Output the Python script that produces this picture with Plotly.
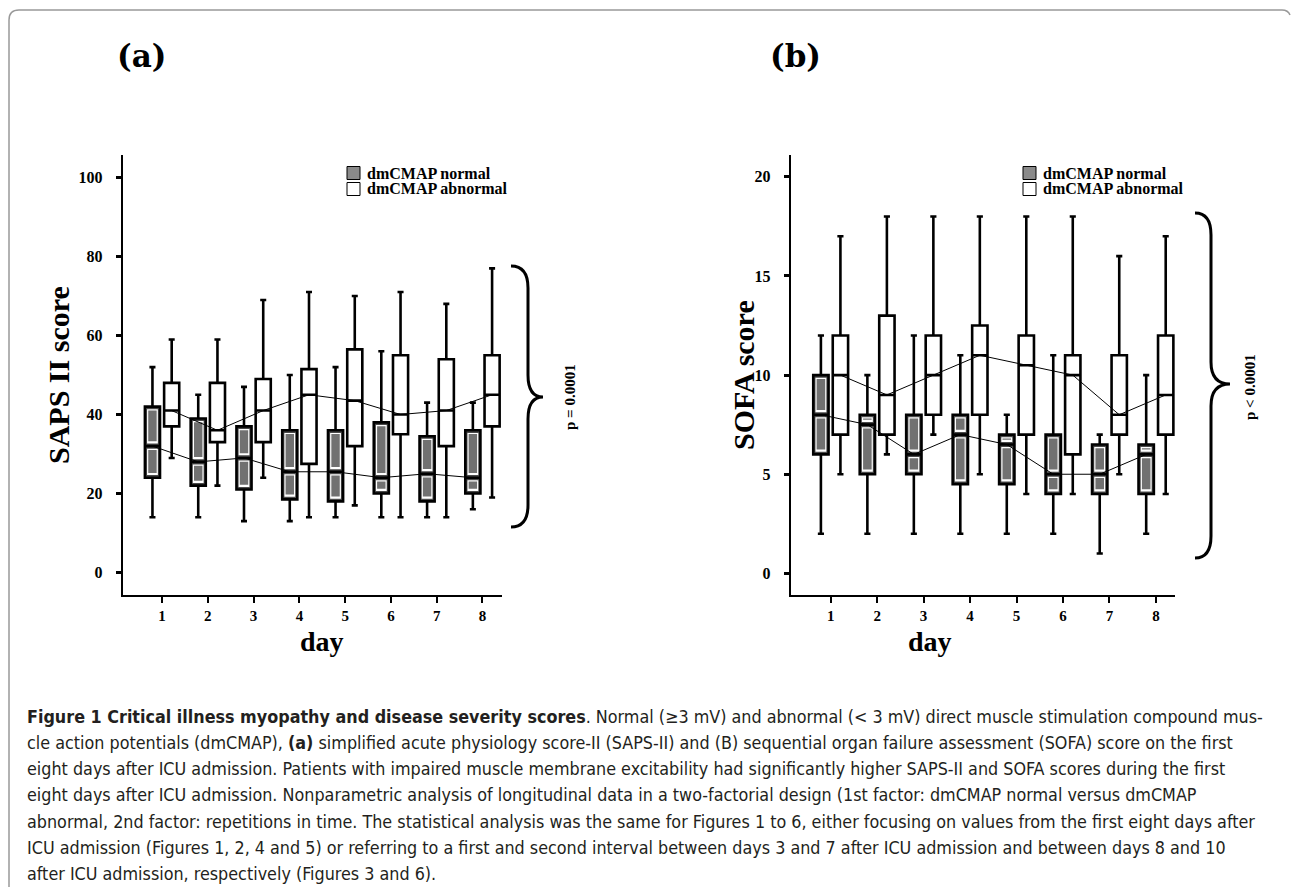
import plotly.graph_objects as go

W, H = 1292, 887

days = [1, 2, 3, 4, 5, 6, 7, 8]
day_labels = ["1", "2", "3", "4", "5", "6", "7", "8"]

# Panel (a) SAPS II: dmCMAP normal
saps_norm_low = [14, 14, 13, 13, 14, 14, 14, 16]
saps_norm_q1 = [24, 22, 21, 18.5, 18, 20, 18, 20]
saps_norm_med = [32, 28, 29, 25.5, 25.5, 24, 25, 24]
saps_norm_q3 = [42, 39, 37, 36, 36, 38, 34.5, 36]
saps_norm_high = [52, 45, 47, 50, 52, 56, 43, 43]
# Panel (a) SAPS II: dmCMAP abnormal
saps_abn_low = [29, 22, 24, 14, 17, 14, 14, 19]
saps_abn_q1 = [37, 33, 33, 27.5, 32, 35, 32, 37]
saps_abn_med = [41, 36, 41, 45, 43.5, 40, 41, 45]
saps_abn_q3 = [48, 48, 49, 51.5, 56.5, 55, 54, 55]
saps_abn_high = [59, 59, 69, 71, 70, 71, 68, 77]

# Panel (b) SOFA: dmCMAP normal
sofa_norm_low = [2, 2, 2, 2, 2, 2, 1, 2]
sofa_norm_q1 = [6, 5, 5, 4.5, 4.5, 4, 4, 4]
sofa_norm_med = [8, 7.5, 6, 7, 6.5, 5, 5, 6]
sofa_norm_q3 = [10, 8, 8, 8, 7, 7, 6.5, 6.5]
sofa_norm_high = [12, 10, 12, 11, 8, 11, 7, 10]
# Panel (b) SOFA: dmCMAP abnormal
sofa_abn_low = [5, 6, 7, 5, 4, 4, 5, 4]
sofa_abn_q1 = [7, 7, 8, 8, 7, 6, 7, 7]
sofa_abn_med = [10, 9, 10, 11, 10.5, 10, 8, 9]
sofa_abn_q3 = [12, 13, 12, 12.5, 12, 11, 11, 12]
sofa_abn_high = [17, 18, 18, 18, 18, 18, 16, 17]

saps_ticks = [0, 20, 40, 60, 80, 100]
sofa_ticks = [0, 5, 10, 15, 20]

legend_labels = ["dmCMAP normal", "dmCMAP abnormal"]
p_labels = ["p = 0.0001", "p &lt; 0.0001"]
panel_labels = ["(a)", "(b)"]
y_titles = ["SAPS II score", "SOFA score"]
x_title = "day"

caption_lines = [
    "<b>Figure 1 Critical illness myopathy and disease severity scores</b>. Normal (≥3 mV) and abnormal (&lt; 3 mV) direct muscle stimulation compound mus-",
    "cle action potentials (dmCMAP), <b>(a)</b> simplified acute physiology score-II (SAPS-II) and (B) sequential organ failure assessment (SOFA) score on the first",
    "eight days after ICU admission. Patients with impaired muscle membrane excitability had significantly higher SAPS-II and SOFA scores during the first",
    "eight days after ICU admission. Nonparametric analysis of longitudinal data in a two-factorial design (1st factor: dmCMAP normal versus dmCMAP",
    "abnormal, 2nd factor: repetitions in time. The statistical analysis was the same for Figures 1 to 6, either focusing on values from the first eight days after",
    "ICU admission (Figures 1, 2, 4 and 5) or referring to a first and second interval between days 3 and 7 after ICU admission and between days 8 and 10",
    "after ICU admission, respectively (Figures 3 and 6).",
]

# ---------------- styling / layout ----------------
OFF = 0.21
BOXW = 0.33
INNER_W = 0.21
NORM_FILL = "#4a4a4a"
SERIF = "Liberation Serif, Times New Roman, serif"

ax_a = (122.7, 501.7)
ax_b = (790.7, 1175)
y_top, y_bot = 155, 595
range_a = [-5.7, 105.7]
range_b = [-1.09, 21.1]


def px_x(p):
    return p / W


def px_y(p):
    return 1 - p / H


fig = go.Figure()

panels = [
    dict(xa="x", ya="y", yr=range_a,
         norm=(saps_norm_low, saps_norm_q1, saps_norm_med, saps_norm_q3, saps_norm_high),
         abn=(saps_abn_low, saps_abn_q1, saps_abn_med, saps_abn_q3, saps_abn_high)),
    dict(xa="x2", ya="y2", yr=range_b,
         norm=(sofa_norm_low, sofa_norm_q1, sofa_norm_med, sofa_norm_q3, sofa_norm_high),
         abn=(sofa_abn_low, sofa_abn_q1, sofa_abn_med, sofa_abn_q3, sofa_abn_high)),
]

for p in panels:
    upp = (p["yr"][1] - p["yr"][0]) / (y_bot - y_top)  # data units per pixel
    inset = 3.2 * upp
    for key, sign, fill in (("norm", -1, NORM_FILL), ("abn", 1, "white")):
        lo, q1, med, q3, hi = p[key]
        xs = [d + sign * OFF for d in days]
        fig.add_trace(go.Box(
            x=xs, q1=q1, median=med, q3=q3, lowerfence=lo, upperfence=hi,
            width=BOXW, whiskerwidth=0.4, fillcolor=fill,
            line=dict(color="black", width=2.6),
            xaxis=p["xa"], yaxis=p["ya"], showlegend=False, hoverinfo="skip",
        ))
    # decorative inner outlines of the shaded (normal) boxes, one per half
    lo, q1, med, q3, hi = p["norm"]
    xs = [d - OFF for d in days]
    for a_vals, b_vals in ((q1, med), (med, q3)):
        bx, b_lo, b_hi = [], [], []
        for x, a, b in zip(xs, a_vals, b_vals):
            if (b - a) > 2.4 * inset:
                bx.append(x)
                b_lo.append(a + inset)
                b_hi.append(b - inset)
        if bx:
            fig.add_trace(go.Box(
                x=bx, q1=b_lo, median=b_lo, q3=b_hi, lowerfence=b_lo, upperfence=b_hi,
                width=INNER_W, whiskerwidth=0, fillcolor="rgba(140,140,140,0.6)",
                line=dict(color="white", width=1.2),
                xaxis=p["xa"], yaxis=p["ya"], showlegend=False, hoverinfo="skip",
            ))
    # median connecting lines
    for key, sign in (("norm", -1), ("abn", 1)):
        med = p[key][2]
        xs = [d + sign * OFF for d in days]
        fig.add_trace(go.Scatter(
            x=xs, y=med, mode="lines", line=dict(color="black", width=1),
            xaxis=p["xa"], yaxis=p["ya"], showlegend=False, hoverinfo="skip",
        ))

common_x = dict(showline=True, linecolor="black", linewidth=2, ticks="outside",
                ticklen=6, tickwidth=2, tickcolor="black", showgrid=False,
                zeroline=False, tickvals=days, ticktext=day_labels,
                tickfont=dict(family=SERIF, size=15, color="black", weight="bold"),
                ticklabelstandoff=0)
common_y = dict(showline=True, linecolor="black", linewidth=2, ticks="outside",
                ticklen=5, tickwidth=3, tickcolor="black", showgrid=False,
                zeroline=False,
                tickfont=dict(family=SERIF, size=16, color="black", weight="bold"),
                ticklabelstandoff=10)

fig.update_layout(
    width=W, height=H, margin=dict(l=0, r=0, t=0, b=0),
    paper_bgcolor="white", plot_bgcolor="white", showlegend=False,
    xaxis=dict(common_x, domain=[px_x(ax_a[0]), px_x(ax_a[1])], range=[0.14, 8.42], anchor="y"),
    yaxis=dict(common_y, domain=[px_y(y_bot), px_y(y_top)], range=range_a,
               tickvals=saps_ticks, anchor="x"),
    xaxis2=dict(common_x, domain=[px_x(ax_b[0]), px_x(ax_b[1])], range=[0.14, 8.41], anchor="y2"),
    yaxis2=dict(common_y, domain=[px_y(y_bot), px_y(y_top)], range=range_b,
                tickvals=sofa_ticks, anchor="x2"),
)

annotations = []
shapes = []


def ann(text, cx, cy, size, family=SERIF, xanchor="center", angle=0, color="black"):
    return dict(x=px_x(cx), y=px_y(cy), xref="paper", yref="paper", text=text,
                showarrow=False, xanchor=xanchor, yanchor="middle", textangle=angle,
                font=dict(family=family, size=size, color=color))


# panel labels
for lab, cx in zip(panel_labels, (141, 795)):
    annotations.append(ann(f"<b>{lab}</b>", cx, 56, 31, family="DejaVu Serif, serif"))

# axis titles
for t, cx in zip(y_titles, (58, 743)):
    annotations.append(ann(f"<b>{t}</b>", cx, 375, 30, angle=-90))
for cx in (322, 930):
    annotations.append(ann(f"<b>{x_title}</b>", cx, 641, 28))

# legends
for sx in (347, 1023):
    for i, (lab, fill) in enumerate(zip(legend_labels, ("#8a8a8a", "white"))):
        yc = 173 + 16 * i
        shapes.append(dict(type="rect", xref="paper", yref="paper",
                           x0=px_x(sx), x1=px_x(sx + 13), y0=px_y(yc + 6.5), y1=px_y(yc - 6.5),
                           fillcolor=fill, line=dict(color="black", width=1)))
        annotations.append(ann(f"<b>{lab}</b>", sx + 18, yc, 16, xanchor="left"))


# braces
def brace(x0, xv, xt, yt, yb, ym, h=22):
    pts = [
        f"M {px_x(x0)},{px_y(yt)}",
        f"Q {px_x(xv)},{px_y(yt)} {px_x(xv)},{px_y(yt + h)}",
        f"L {px_x(xv)},{px_y(ym - h)}",
        f"Q {px_x(xv)},{px_y(ym)} {px_x(xt)},{px_y(ym)}",
        f"Q {px_x(xv)},{px_y(ym)} {px_x(xv)},{px_y(ym + h)}",
        f"L {px_x(xv)},{px_y(yb - h)}",
        f"Q {px_x(xv)},{px_y(yb)} {px_x(x0)},{px_y(yb)}",
    ]
    return dict(type="path", xref="paper", yref="paper", path=" ".join(pts),
                line=dict(color="black", width=3))


shapes.append(brace(511, 528, 543, 266, 527, 397))
shapes.append(brace(1195, 1211, 1230, 213, 558, 384))
for t, cx, cy in zip(p_labels, (570, 1250), (397, 387)):
    annotations.append(ann(f"<b>{t}</b>", cx, cy, 15, angle=-90))

# frame
frame = (f"M {px_x(9)},{px_y(887)} L {px_x(9)},{px_y(20)} "
         f"Q {px_x(9)},{px_y(10)} {px_x(19)},{px_y(10)} "
         f"L {px_x(1282)},{px_y(10)} Q {px_x(1288)},{px_y(10)} {px_x(1290)},{px_y(15)}")
shapes.append(dict(type="path", xref="paper", yref="paper", path=frame,
                   line=dict(color="#999999", width=1.5)))

# caption
CAP_FONT = "DejaVu Sans Condensed, Liberation Sans Narrow, Open Sans"
for i, line in enumerate(caption_lines):
    annotations.append(ann(line, 25, 716 + 26.3 * i, 17.8, family=CAP_FONT,
                           xanchor="left", color="#231f20"))

fig.update_layout(annotations=annotations, shapes=shapes)
fig.write_html("out.html")
